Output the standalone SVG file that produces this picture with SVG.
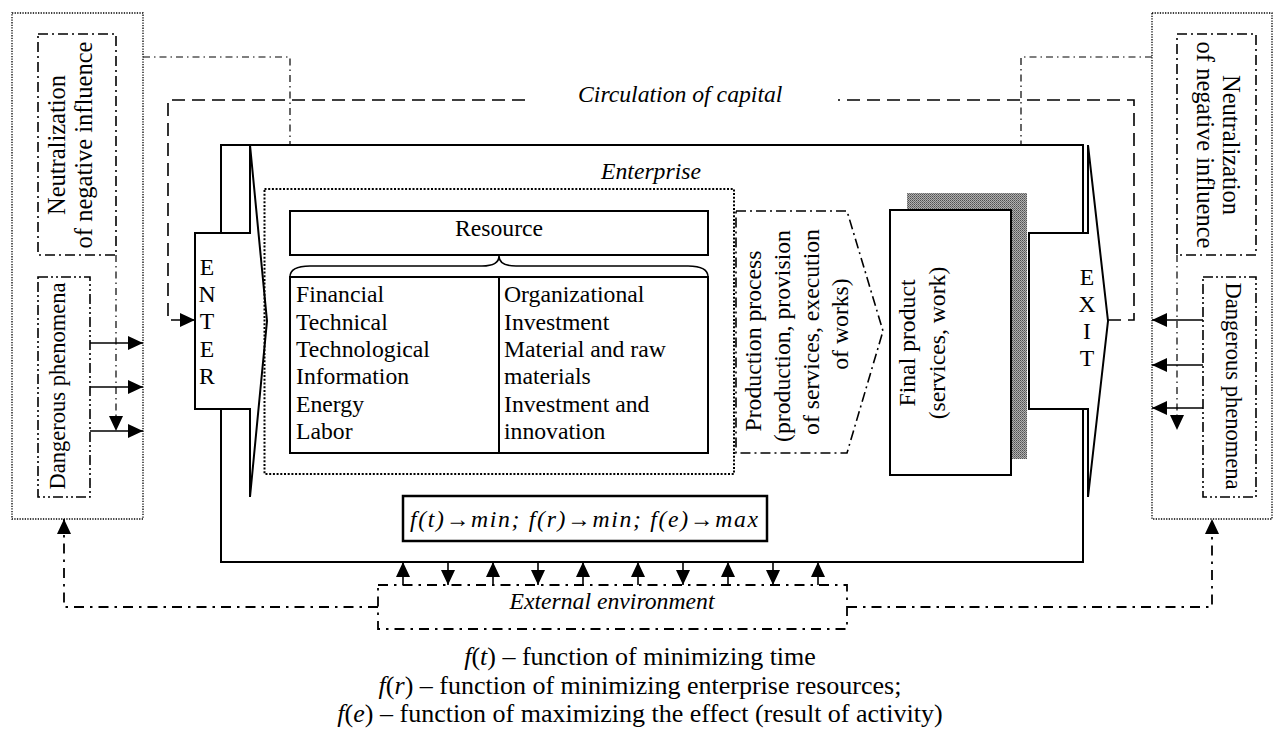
<svg xmlns="http://www.w3.org/2000/svg" width="1273" height="736" viewBox="0 0 1273 736">
<defs>
<style>
.t{font-family:'Liberation Serif','DejaVu Serif',serif;font-size:23.7px;fill:#000}
.it{font-style:italic}
.leg{font-size:26px}
.big{font-size:24.5px}
.sm{font-size:22.5px}
.solid{fill:none;stroke:#000;stroke-width:2}
.wfill{fill:#fff;stroke:#000;stroke-width:2}
.outer{fill:none;stroke:#000;stroke-width:1.3;stroke-dasharray:1.3 1.3}
.entdot{fill:none;stroke:#000;stroke-width:2;stroke-dasharray:2 1.7}
.neut{fill:none;stroke:#000;stroke-width:1.6;stroke-dasharray:10 4 2 4}
.dang{fill:none;stroke:#000;stroke-width:1.6;stroke-dasharray:10 3 2 3 2 3}
.circ{fill:none;stroke:#000;stroke-width:1.6;stroke-dasharray:13 7}
.dd{fill:none;stroke:#000;stroke-width:1.2;stroke-dasharray:7 4 1.5 4}
.ddb{fill:none;stroke:#000;stroke-width:1.8;stroke-dasharray:10 6 2.5 6}
.arr{fill:none;stroke:#000;stroke-width:1.6}
.me{marker-end:url(#ah)}
</style>
<marker id="ah" viewBox="0 0 15 14" refX="15" refY="7" markerWidth="15" markerHeight="14" markerUnits="userSpaceOnUse" orient="auto"><path d="M0,0 L15,7 L0,14 Z" fill="#000"/></marker>
<pattern id="stip" width="2" height="2" patternUnits="userSpaceOnUse"><rect width="2" height="2" fill="#b0b0b0"/><rect width="1" height="1" fill="#505050"/><rect x="1" y="1" width="1" height="1" fill="#707070"/></pattern>
</defs>
<rect width="1273" height="736" fill="#fff"/>
<g font-family="Liberation Serif, DejaVu Serif, serif">

<g id="left-outer"><rect class="outer" x="12" y="13" width="131" height="506"/></g>
<g id="neutralization-left">
<rect class="neut" x="38" y="34" width="78" height="221"/>
<text class="t big" font-family="Liberation Serif, serif" text-anchor="middle" transform="translate(65,145) rotate(-90)">Neutralization</text>
<text class="t big" font-family="Liberation Serif, serif" text-anchor="middle" transform="translate(92,145) rotate(-90)">of negative influence</text>
</g>
<g id="dangerous-left">
<rect class="dang" x="38" y="277" width="52" height="220"/>
<text class="t sm" font-family="Liberation Serif, serif" text-anchor="middle" transform="translate(65,386) rotate(-90)">Dangerous phenomena</text>
</g>

<g id="right-outer"><rect class="outer" x="1152" y="13" width="120" height="506"/></g>
<g id="neutralization-right">
<rect class="neut" x="1177" y="34" width="79" height="221"/>
<text class="t big" font-family="Liberation Serif, serif" text-anchor="middle" transform="translate(1223,145) rotate(90)">Neutralization</text>
<text class="t big" font-family="Liberation Serif, serif" text-anchor="middle" transform="translate(1197,145) rotate(90)">of negative influence</text>
</g>
<g id="dangerous-right">
<rect class="dang" x="1203" y="277" width="53" height="220"/>
<text class="t sm" font-family="Liberation Serif, serif" text-anchor="middle" transform="translate(1226,386) rotate(90)">Dangerous phenomena</text>
</g>

<g id="enterprise">
<path class="solid" d="M221,233 V145 H1083 V233 M1083,409 V562 H221 V409"/>
<text class="t it" font-family="Liberation Serif, serif" x="651" y="179" text-anchor="middle">Enterprise</text>
</g>

<g id="enter">
<path class="wfill" d="M195,233 H250 V145 L267,321 L250,497 V409 H195 Z"/>
<text class="t" font-family="Liberation Serif, serif" x="207" y="275" text-anchor="middle">E</text>
<text class="t" font-family="Liberation Serif, serif" x="207" y="302" text-anchor="middle">N</text>
<text class="t" font-family="Liberation Serif, serif" x="207" y="329" text-anchor="middle">T</text>
<text class="t" font-family="Liberation Serif, serif" x="207" y="357" text-anchor="middle">E</text>
<text class="t" font-family="Liberation Serif, serif" x="207" y="384" text-anchor="middle">R</text>
</g>

<g id="exit">
<path class="wfill" d="M1029,233 H1088 V145 L1108,321 L1088,497 V409 H1029 Z"/>
<text class="t" font-family="Liberation Serif, serif" x="1087" y="285" text-anchor="middle">E</text>
<text class="t" font-family="Liberation Serif, serif" x="1087" y="312" text-anchor="middle">X</text>
<text class="t" font-family="Liberation Serif, serif" x="1087" y="339" text-anchor="middle">I</text>
<text class="t" font-family="Liberation Serif, serif" x="1087" y="366" text-anchor="middle">T</text>
</g>

<g id="enterprise-resources-frame"><rect class="entdot" x="264.5" y="189" width="469.5" height="285"/></g>

<g id="resource">
<rect class="solid" x="290" y="211" width="418" height="44"/>
<text class="t" font-family="Liberation Serif, serif" x="499" y="236" text-anchor="middle">Resource</text>
<path fill="none" stroke="#000" stroke-width="1.6" d="M290,277 Q290,266 310,266 L482,266 Q499,266 499,256 Q499,266 516,266 L688,266 Q708,266 708,277"/>
<rect class="solid" x="290" y="277" width="418" height="176"/>
<line x1="499" y1="277" x2="499" y2="453" stroke="#000" stroke-width="2"/>
<g class="t" font-family="Liberation Serif, serif">
<text x="296" y="302">Financial</text>
<text x="296" y="329.5">Technical</text>
<text x="296" y="357">Technological</text>
<text x="296" y="384">Information</text>
<text x="296" y="412">Energy</text>
<text x="296" y="439">Labor</text>
<text x="504" y="302">Organizational</text>
<text x="504" y="329.5">Investment</text>
<text x="504" y="357">Material and raw</text>
<text x="504" y="384">materials</text>
<text x="504" y="412">Investment and</text>
<text x="504" y="439">innovation</text>
</g>
</g>

<g id="production-process">
<path class="neut" d="M736,211 H847 L883,331 L847,453 H736 Z"/>
<g class="t" font-family="Liberation Serif, serif" text-anchor="middle">
<text transform="translate(761,341) rotate(-90)">Production process</text>
<text transform="translate(790,336) rotate(-90)">(production, provision</text>
<text transform="translate(819,332) rotate(-90)">of services, execution</text>
<text transform="translate(848,324) rotate(-90)">of works)</text>
</g>
</g>

<g id="final-product">
<rect x="907" y="193" width="120" height="266" fill="url(#stip)"/>
<rect class="wfill" x="890" y="210" width="121" height="265"/>
<g class="t" font-family="Liberation Serif, serif" text-anchor="middle">
<text transform="translate(915,343) rotate(-90)">Final product</text>
<text transform="translate(945,343) rotate(-90)">(services, work)</text>
</g>
</g>

<g id="objective-functions">
<rect x="403" y="496" width="364" height="45" fill="#fff" stroke="#000" stroke-width="2.5"/>
<text class="t it" font-family="Liberation Serif, serif" x="410" y="527" textLength="348" lengthAdjust="spacing">f(t)→min; f(r)→min; f(e)→max</text>
</g>

<g id="external-environment">
<rect class="ddb" x="378" y="585" width="469" height="44"/>
<text class="t it" font-family="Liberation Serif, serif" x="612" y="609" text-anchor="middle">External environment</text>
</g>

<g id="circulation-label"><text class="t it" font-family="Liberation Serif, serif" x="578" y="102">Circulation of capital</text></g>

<g id="connectors">
<path class="dd" d="M143,57 H290 V145"/>
<path class="dd" d="M1152,57 H1021 V145"/>
<path class="circ" d="M1108,320 H1134 V100 H838"/>
<path class="circ me" d="M525,100 H168 V320 H195"/>
<path class="arr me" d="M90,343 H143"/>
<path class="arr me" d="M90,387 H143"/>
<path class="arr me" d="M90,431 H143"/>
<path class="dd me" d="M116,255 V431"/>
<path class="arr me" d="M1203,320 H1152"/>
<path class="arr me" d="M1203,365 H1152"/>
<path class="arr me" d="M1203,408 H1152"/>
<path class="dd me" d="M1177,255 V430"/>
<path class="ddb me" d="M378,607 H64 V519"/>
<path class="ddb me" d="M847,607 H1212 V519"/>
<path class="arr me" d="M403,585 V562"/>
<path class="arr me" d="M448,562 V585"/>
<path class="arr me" d="M493,585 V562"/>
<path class="arr me" d="M538,562 V585"/>
<path class="arr me" d="M583,585 V562"/>
<path class="arr me" d="M638,585 V562"/>
<path class="arr me" d="M683,562 V585"/>
<path class="arr me" d="M728,585 V562"/>
<path class="arr me" d="M773,562 V585"/>
<path class="arr me" d="M818,585 V562"/>
</g>

<g id="legend" class="t leg" font-family="Liberation Serif, serif" text-anchor="middle">
<text x="640" y="665"><tspan font-style="italic">f</tspan>(<tspan font-style="italic">t</tspan>) – function of minimizing time</text>
<text x="640" y="694"><tspan font-style="italic">f</tspan>(<tspan font-style="italic">r</tspan>) – function of minimizing enterprise resources;</text>
<text x="640" y="722"><tspan font-style="italic">f</tspan>(<tspan font-style="italic">e</tspan>) – function of maximizing the effect (result of activity)</text>
</g>
</g>
</svg>
